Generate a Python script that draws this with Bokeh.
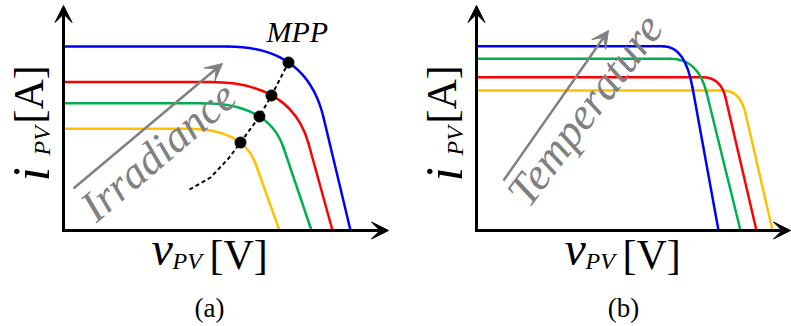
from bokeh.plotting import figure
from bokeh.layouts import row
from bokeh.models import Range1d, Arrow, VeeHead, Label, ColumnDataSource
from bokeh.embed import file_html
from bokeh.resources import INLINE
import math

# ---------------- data (volts / amps) ----------------
curve_colors = ["#FFC000", "#00B050", "#FF0000", "#0000FF"]   # yellow, green, red, blue

# Panel (a): irradiance increases yellow -> blue
a_isc   = [5.085, 6.365, 7.42, 9.20]     # short-circuit current
a_vknee = [16.53, 18.53, 19.60, 21.87]   # voltage where the knee starts
a_vctrl = [23.95, 27.33, 30.40, 32.40]   # corner (control point) voltage
a_vbend = [25.60, 29.33, 32.67, 34.67]   # voltage where the knee ends
a_ibend = [3.35, 4.15, 4.35, 5.65]       # current where the knee ends
a_voc   = [28.80, 33.07, 35.87, 38.27]   # open-circuit voltage

a_mpp_v = [23.60, 26.13, 27.73, 30.00]
a_mpp_i = [4.40, 5.70, 6.75, 8.40]
locus_v = [16.8, 19.6, 22.0, 23.60, 26.13, 27.73, 30.00]
locus_i = [2.05, 2.65, 3.60, 4.40, 5.70, 6.75, 8.40]

# Panel (b): temperature
b_colors = ["#FFC000", "#FF0000", "#00B050", "#0000FF"]
b_isc   = [7.000, 7.665, 8.585, 9.215]
b_vknee = [32.93, 30.13, 25.87, 24.93]
b_vctrl = [35.16, 32.57, 29.56, 27.80]
b_vbend = [35.87, 33.20, 30.67, 28.80]
b_ibend = [5.85, 6.65, 6.90, 7.15]
b_voc   = [39.47, 37.33, 35.20, 32.27]

# ---------------- helpers ----------------
SX, SY = 7.5, 20.0        # px per volt, px per amp
H = 326
AXIS_ROW = 230            # pixel row of the v axis (from top)
FONT = "Liberation Serif"
BASE_FIX = 0.3            # empirical baseline correction (fraction of font size)


def make_fig(width, origin_x):
    below = H - AXIS_ROW
    p = figure(width=width, height=H, output_backend="svg", toolbar_location=None,
               x_axis_location=None, y_axis_location=None, min_border=0,
               x_range=Range1d(-origin_x / SX, (width - origin_x) / SX),
               y_range=Range1d(-below / SY, AXIS_ROW / SY))
    p.grid.visible = False
    p.outline_line_color = None
    p.background_fill_color = "white"
    p.border_fill_color = "white"
    return p


def draw_curves(p, colors, isc, vknee, vctrl, vbend, ibend, voc):
    for i in range(len(isc)):
        s = ColumnDataSource(dict(zero=[0.0], isc=[isc[i]], vknee=[vknee[i]], vctrl=[vctrl[i]],
                                  vbend=[vbend[i]], ibend=[ibend[i]], voc=[voc[i]]))
        kw = dict(source=s, line_color=colors[i], line_width=2.5, line_cap="round")
        p.segment(x0="zero", y0="isc", x1="vknee", y1="isc", **kw)
        p.quadratic(x0="vknee", y0="isc", x1="vbend", y1="ibend", cx="vctrl", cy="isc", **kw)
        p.segment(x0="vbend", y0="ibend", x1="voc", y1="zero", **kw)


def axes(p, x_end, y_end):
    p.add_layout(Arrow(x_start=-0.2, y_start=0, x_end=x_end, y_end=0, line_width=3,
                       line_color="black",
                       end=VeeHead(size=17, fill_color="black", line_color="black", line_width=1)))
    p.add_layout(Arrow(x_start=0, y_start=-0.075, x_end=0, y_end=y_end, line_width=3,
                       line_color="black",
                       end=VeeHead(size=17, fill_color="black", line_color="black", line_width=1)))


def label(p, x0, img_x, img_y, text, size, style="normal", angle=0.0, color="black",
          align="left"):
    # img_x, img_y: wanted baseline origin in picture pixels (y down)
    fx = img_x - BASE_FIX * size * math.sin(angle)
    fy = img_y - BASE_FIX * size * math.cos(angle)
    p.add_layout(Label(x=fx - x0, y=H - fy, x_units="screen", y_units="screen",
                       text=text, text_font=FONT, text_font_size=f"{size}px",
                       text_font_style=style, text_color=color, angle=angle,
                       text_align=align, text_baseline="alphabetic"))


def axis_labels(p, x0, ox):
    d = ox - 63          # ox: pixel column of the i axis
    up = math.pi / 2
    label(p, x0, 47 + d, 181, "i", 52, "italic", up)
    label(p, x0, 49 + d, 155, "PV", 24, "italic", up)
    label(p, x0, 41 + d, 123, "[A]", 42, "normal", up)
    label(p, x0, 151 + d, 262, "v", 48, "italic")
    label(p, x0, 172 + d, 268, "PV", 24, "italic")
    label(p, x0, 209 + d, 267, "[V]", 42, "normal")


# ---------------- panel (a) ----------------
pa = make_fig(400, 63)
draw_curves(pa, curve_colors, a_isc, a_vknee, a_vctrl, a_vbend, a_ibend, a_voc)
pa.line(locus_v, locus_i, line_color="black", line_width=2, line_dash="4 3")
pa.scatter(a_mpp_v, a_mpp_i, size=11, fill_color="black", line_color="black")
axes(pa, 43.33, 11.25)
pa.add_layout(Arrow(x_start=1.33, y_start=2.1, x_end=21.2, y_end=8.35, line_width=2.5,
                    line_color="#808080",
                    end=VeeHead(size=17, fill_color="#808080", line_color="#808080", line_width=1)))
label(pa, 0, 95, 222, "Irradiance", 44, "italic", math.radians(40.5), "#808080")
label(pa, 0, 266, 40, "MPP", 30, "italic")
axis_labels(pa, 0, 63)
label(pa, 0, 209, 316, "(a)", 27, "normal", 0.0, "black", "center")

# ---------------- panel (b) ----------------
pb = make_fig(391, 76)
draw_curves(pb, b_colors, b_isc, b_vknee, b_vctrl, b_vbend, b_ibend, b_voc)
axes(pb, 41.87, 11.25)
pb.add_layout(Arrow(x_start=3.6, y_start=2.5, x_end=17.6, y_end=10.0, line_width=2.5,
                    line_color="#808080",
                    end=VeeHead(size=17, fill_color="#808080", line_color="#808080", line_width=1)))
label(pb, 400, 527, 208, "Temperature", 45, "italic", math.radians(53), "#808080")
axis_labels(pb, 400, 476)
label(pb, 400, 623, 316, "(b)", 27, "normal", 0.0, "black", "center")

layout = row(pa, pb)
open("out.html", "w").write(file_html(layout, INLINE))
